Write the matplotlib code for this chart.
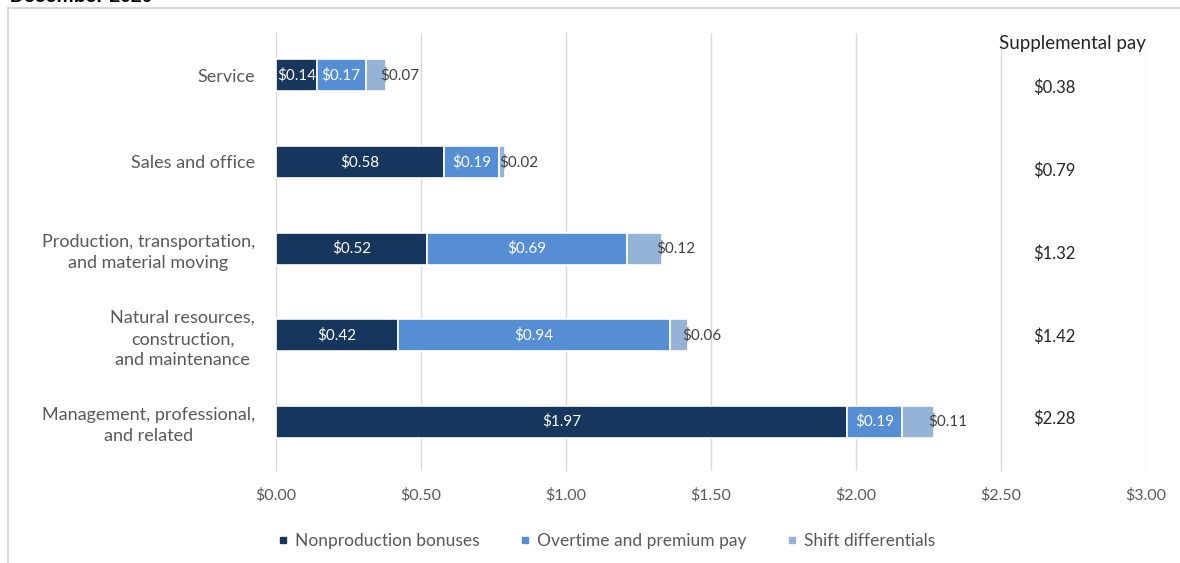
import numpy as np
import matplotlib.pyplot as plt
from matplotlib.patches import Rectangle
from matplotlib.lines import Line2D

# data, top to bottom as in the chart
categories = ["Service", "Sales and office", "Production, transportation,\nand material moving",
              "Natural resources,\nconstruction,\nand maintenance", "Management, professional,\nand related"]
bonuses = [0.14, 0.58, 0.52, 0.42, 1.97]
overtime = [0.17, 0.19, 0.69, 0.94, 0.19]
shift = [0.07, 0.02, 0.12, 0.06, 0.11]
supplemental = ["$0.38", "$0.79", "$1.32", "$1.42", "$2.28"]
series_names = ["Nonproduction bonuses", "Overtime and premium pay", "Shift differentials"]
colors = ["#17365d", "#558ed5", "#95b3d7"]
xticks = np.arange(0, 3.01, 0.5)

plt.rcParams["font.family"] = ["Lato", "DejaVu Sans"]
W, H = 1180, 563
fig = plt.figure(figsize=(W/100, H/100), dpi=100)

# outer frame of the original chart box
fig.patches.append(Rectangle((8/W, -0.1), 1.2, 1.1 - 8/H, transform=fig.transFigure,
                             fill=False, ec="#d9d9d9", lw=1.5))
fig.text(10/W, 1 - 2/H, "December 2020", fontsize=14, fontweight="bold",
         family="Liberation Sans", va="baseline", ha="left")

ax = fig.add_axes([276/W, 1 - 471/H, 870/W, 438/H])
n = len(categories)
ypos = np.arange(n)[::-1]
data = [bonuses, overtime, shift]
left = np.zeros(n)
for s in range(3):
    vals = np.array(data[s])
    ax.barh(ypos, vals, left=left, height=0.37, color=colors[s], edgecolor="white", lw=1.2,
            label=series_names[s], zorder=3)
    for i in range(n):
        txt = "$%.2f" % vals[i]
        if s < 2:
            ax.text(left[i] + vals[i]/2, ypos[i], txt, ha="center", va="center",
                    color="white", fontsize=11, zorder=4)
        else:
            ax.text(left[i] + vals[i] - 0.02, ypos[i], txt, ha="left", va="center",
                    color="#404040", fontsize=11, zorder=4)
    left = left + vals

ax.set_xlim(0, 3.0)
ax.set_ylim(-0.57, 4.49)
ax.set_xticks(xticks)
ax.set_xticklabels(["$%.2f" % v for v in xticks], fontsize=11.5, color="#595959")
ax.set_yticks(ypos)
ax.set_yticklabels(categories, fontsize=13, color="#595959", ha="right",
                   multialignment="center", linespacing=1.4)
ax.tick_params(axis="y", length=0, pad=15)
ax.tick_params(axis="x", length=0, pad=12)
ax.grid(axis="x", color="#d9d9d9", lw=1, zorder=0)
for sp in ax.spines.values():
    sp.set_visible(False)

# supplemental pay column
fig.text(1072/W, 1 - 43/H, "Supplemental pay", ha="center", va="center", fontsize=13.5, color="#262626")
for i in range(n):
    fig.text(1054/W, 1 - (88 + i*82.75)/H, supplemental[i], ha="center", va="center",
             fontsize=12, color="#262626")

handles = [Line2D([], [], marker="s", ls="", color=c, markersize=5) for c in colors]
fig.legend(handles, series_names, loc="center", bbox_to_anchor=(604/W, 1 - 541/H), ncol=3,
           frameon=False, fontsize=12.5, handletextpad=0.1, handlelength=1.2,
           columnspacing=2.0, labelcolor="#595959")

plt.savefig("out.png", dpi=100)
